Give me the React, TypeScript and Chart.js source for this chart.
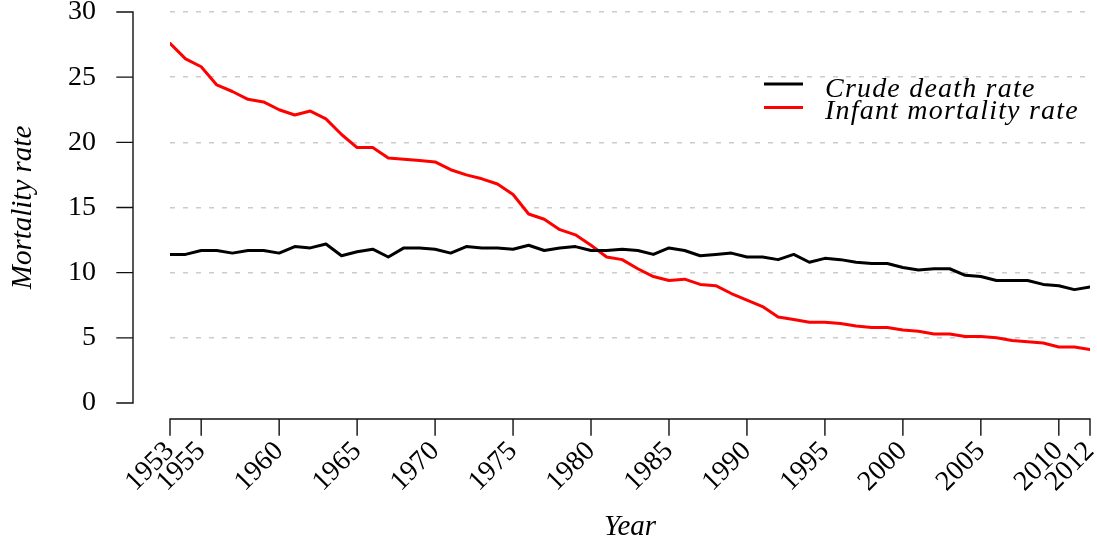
import React, { useEffect, useRef } from "react";
import { Chart, registerables } from "chart.js";

Chart.register(...registerables);

const years = [
  1953, 1954, 1955, 1956, 1957, 1958, 1959, 1960, 1961, 1962,
  1963, 1964, 1965, 1966, 1967, 1968, 1969, 1970, 1971, 1972,
  1973, 1974, 1975, 1976, 1977, 1978, 1979, 1980, 1981, 1982,
  1983, 1984, 1985, 1986, 1987, 1988, 1989, 1990, 1991, 1992,
  1993, 1994, 1995, 1996, 1997, 1998, 1999, 2000, 2001, 2002,
  2003, 2004, 2005, 2006, 2007, 2008, 2009, 2010, 2011, 2012,
];

const crudeDeathRate = [
  11.4, 11.4, 11.7, 11.7, 11.5, 11.7, 11.7, 11.5, 12.0, 11.9,
  12.2, 11.3, 11.6, 11.8, 11.2, 11.9, 11.9, 11.8, 11.5, 12.0,
  11.9, 11.9, 11.8, 12.1, 11.7, 11.9, 12.0, 11.7, 11.7, 11.8,
  11.7, 11.4, 11.9, 11.7, 11.3, 11.4, 11.5, 11.2, 11.2, 11.0,
  11.4, 10.8, 11.1, 11.0, 10.8, 10.7, 10.7, 10.4, 10.2, 10.3,
  10.3, 9.8, 9.7, 9.4, 9.4, 9.4, 9.1, 9.0, 8.7, 8.9,
];

const infantMortalityRate = [
  27.6, 26.4, 25.8, 24.4, 23.9, 23.3, 23.1, 22.5, 22.1, 22.4,
  21.8, 20.6, 19.6, 19.6, 18.8, 18.7, 18.6, 18.5, 17.9, 17.5,
  17.2, 16.8, 16.0, 14.5, 14.1, 13.3, 12.9, 12.1, 11.2, 11.0,
  10.3, 9.7, 9.4, 9.5, 9.1, 9.0, 8.4, 7.9, 7.4, 6.6,
  6.4, 6.2, 6.2, 6.1, 5.9, 5.8, 5.8, 5.6, 5.5, 5.3,
  5.3, 5.1, 5.1, 5.0, 4.8, 4.7, 4.6, 4.3, 4.3, 4.1,
];

const xTickYears = [1953, 1955, 1960, 1965, 1970, 1975, 1980, 1985, 1990, 1995, 2000, 2005, 2010, 2012];
const yTickValues = [0, 5, 10, 15, 20, 25, 30];
const seriesLabels = ["Crude death rate", "Infant mortality rate"];
const seriesColors = ["#000000", "#ff0000"];
const xTitle = "Year";
const yTitle = "Mortality rate";

const FONT = '"Liberation Serif", "DejaVu Serif", serif';

const axisPlugin = {
  id: "rAxes",
  afterDraw(chart: any) {
    const { ctx, chartArea, scales } = chart;
    const xs = scales.x;
    const ys = scales.y;
    const ax = chartArea.left - 37;
    const ay = chartArea.bottom + 16;
    const tick = 16;
    ctx.save();
    ctx.strokeStyle = "#111";
    ctx.lineWidth = 1.4;
    ctx.lineCap = "square";
    ctx.beginPath();
    const yFirst = ys.getPixelForValue(yTickValues[0]);
    const yLast = ys.getPixelForValue(yTickValues[yTickValues.length - 1]);
    ctx.moveTo(ax, yFirst);
    ctx.lineTo(ax, yLast);
    for (const v of yTickValues) {
      const py = ys.getPixelForValue(v);
      ctx.moveTo(ax - tick, py);
      ctx.lineTo(ax, py);
    }
    const xFirst = xs.getPixelForValue(xTickYears[0]);
    const xLast = xs.getPixelForValue(xTickYears[xTickYears.length - 1]);
    ctx.moveTo(xFirst, ay);
    ctx.lineTo(xLast, ay);
    for (const v of xTickYears) {
      const px = xs.getPixelForValue(v);
      ctx.moveTo(px, ay);
      ctx.lineTo(px, ay + tick);
    }
    ctx.stroke();
    ctx.restore();
  },
};

const legendPlugin = {
  id: "rLegend",
  afterDraw(chart: any) {
    const { ctx, chartArea } = chart;
    const lx0 = chartArea.right - 326;
    const lx1 = lx0 + 39;
    const tx = chartArea.right - 265;
    const lineYs = [chartArea.top + 72, chartArea.top + 95.5];
    const textYs = [chartArea.top + 85, chartArea.top + 106.5];
    ctx.save();
    chart.data.datasets.forEach((ds: any, i: number) => {
      ctx.strokeStyle = ds.borderColor;
      ctx.lineWidth = 3;
      ctx.lineCap = "butt";
      ctx.beginPath();
      ctx.moveTo(lx0, lineYs[i]);
      ctx.lineTo(lx1, lineYs[i]);
      ctx.stroke();
      ctx.fillStyle = "#000";
      ctx.font = `italic 28px ${FONT}`;
      ctx.textAlign = "left";
      ctx.textBaseline = "alphabetic";
      try {
        (ctx as any).letterSpacing = "1.2px";
      } catch (e) {}
      ctx.fillText(ds.label, tx, textYs[i]);
    });
    ctx.restore();
  },
};

export default function App() {
  const canvasRef = useRef<HTMLCanvasElement | null>(null);

  useEffect(() => {
    if (!canvasRef.current) return;
    const seriesValues = [crudeDeathRate, infantMortalityRate];
    const chart = new Chart(canvasRef.current, {
      type: "line",
      data: {
        datasets: seriesValues.map((vals, i) => ({
          label: seriesLabels[i],
          data: years.map((yr, j) => ({ x: yr, y: vals[j] })),
          borderColor: seriesColors[i],
          backgroundColor: seriesColors[i],
          borderWidth: 3,
          pointRadius: 0,
          tension: 0,
          fill: false,
          borderCapStyle: "round",
          borderJoinStyle: "round",
        })),
      },
      options: {
        animation: false,
        responsive: false,
        maintainAspectRatio: false,
        devicePixelRatio: 1,
        layout: { padding: { left: 0, right: 7, top: 12, bottom: 0 } },
        plugins: {
          legend: { display: false },
          tooltip: { enabled: false },
        },
        scales: {
          x: {
            type: "linear",
            min: 1953,
            max: 2012,
            afterBuildTicks(scale: any) {
              scale.ticks = xTickYears.map((v) => ({ value: v }));
            },
            afterFit(scale: any) {
              scale.height = 143;
              scale.paddingLeft = 0;
              scale.paddingRight = 0;
              scale.paddingTop = 0;
              scale.paddingBottom = 0;
            },
            grid: { display: false, drawTicks: false },
            border: { display: false },
            ticks: {
              autoSkip: false,
              minRotation: 45,
              maxRotation: 45,
              padding: 32,
              color: "#000",
              font: { family: FONT, size: 28 },
              callback: (v: any) => String(v),
            },
            title: {
              display: true,
              text: xTitle,
              color: "#000",
              font: { family: FONT, size: 29, style: "italic" },
              padding: { top: 0, bottom: 1 },
            },
          },
          y: {
            type: "linear",
            min: 0,
            max: 30,
            afterBuildTicks(scale: any) {
              scale.ticks = yTickValues.map((v) => ({ value: v }));
            },
            afterFit(scale: any) {
              scale.width = 170;
              scale.paddingLeft = 0;
              scale.paddingRight = 0;
              scale.paddingTop = 0;
              scale.paddingBottom = 0;
            },
            grid: {
              display: true,
              drawTicks: false,
              lineWidth: 1.5,
              color: (c: any) => (c.tick && c.tick.value === 0 ? "rgba(0,0,0,0)" : "#cccccc"),
            },
            border: { display: false, dash: [5, 8] },
            ticks: {
              padding: 74,
              color: "#000",
              font: { family: FONT, size: 28 },
              callback: (v: any) => String(v),
            },
            title: {
              display: true,
              text: yTitle,
              color: "#000",
              font: { family: FONT, size: 29, style: "italic" },
              padding: { top: 6, bottom: 0 },
            },
          },
        },
      } as any,
      plugins: [axisPlugin, legendPlugin],
    });
    return () => chart.destroy();
  }, []);

  return (
    <div style={{ position: "absolute", left: 0, top: 0, width: 1097, height: 546, background: "#fff" }}>
      <canvas ref={canvasRef} width={1097} height={546} style={{ display: "block" }} />
    </div>
  );
}
